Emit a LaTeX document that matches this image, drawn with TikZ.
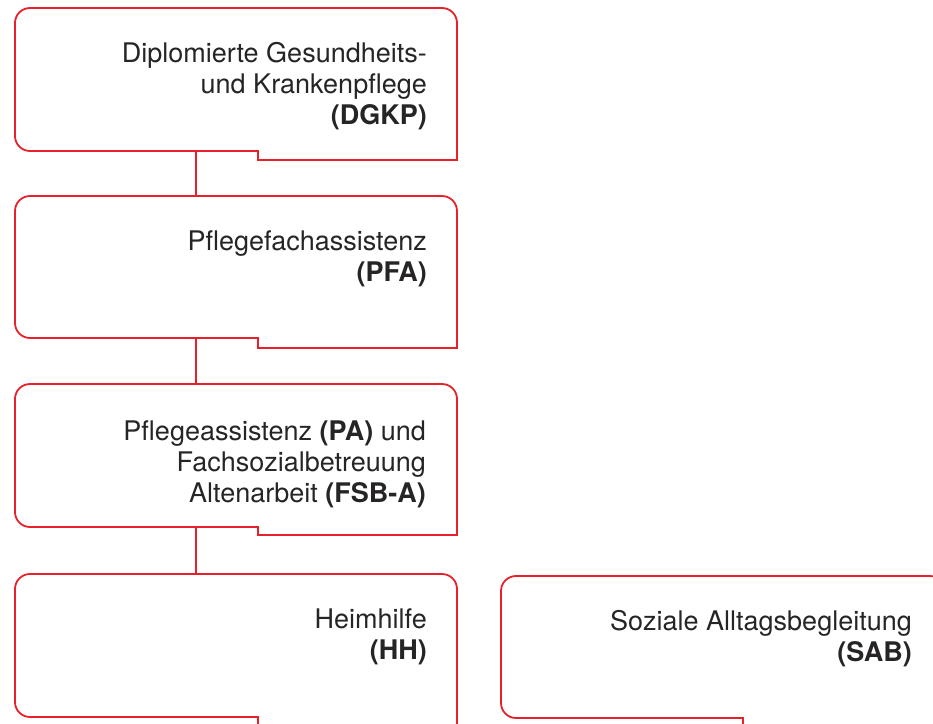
\documentclass[tikz,border=0pt]{standalone}
\usepackage{fontspec}
\setmainfont{TeX Gyre Heros}
\definecolor{boxred}{RGB}{232,32,42}
\definecolor{txtgray}{RGB}{38,36,37}
\newcommand\pflegebox[6]{%
  \draw[boxline] (#5,#4) -- (#5,#6) -- (#3,#6) -- (#3,#2+15)
    .. controls (#3,#2+6.7) and (#3-6.7,#2) .. (#3-15,#2) -- (#1+15,#2)
    .. controls (#1+6.7,#2) and (#1,#2+6.7) .. (#1,#2+15) -- (#1,#4-15)
    .. controls (#1,#4-6.7) and (#1+6.7,#4) .. (#1+15,#4) -- cycle;}
\tikzset{
  boxline/.style={draw=boxred, line width=1.8pt, line join=miter},
  conn/.style={draw=boxred, line width=1.8pt},
  boxtext/.style={inner sep=0pt, anchor=base east, align=right, text=txtgray,
    font=\fontsize{27}{31}\selectfont}
}
\begin{document}
\begin{tikzpicture}[x=1pt,y=-1pt]
\useasboundingbox (0,0) rectangle (933,723);
\clip (0,0) rectangle (933,723);
% boxes
\pflegebox{15}{8}{457}{151}{258}{160}
\pflegebox{15}{196}{457}{338}{258}{348}
\pflegebox{15}{384}{457}{527}{258}{535}
\pflegebox{15}{574}{457}{717}{258}{727}
\pflegebox{501}{576}{945}{718}{743}{728}
% connector points
\coordinate (b1s) at (196,151);
\coordinate (b2n) at (196,196);
\coordinate (b2s) at (196,338);
\coordinate (b3n) at (196,384);
\coordinate (b3s) at (196,527);
\coordinate (b4n) at (196,574);
\draw[conn] (b1s) -- (b2n);
\draw[conn] (b2s) -- (b3n);
\draw[conn] (b3s) -- (b4n);
% texts (anchored at the baseline of the last line)
\node[boxtext] (dgkp) at (427,124) {Diplomierte Gesundheits-\\und Krankenpflege\\\textbf{(DGKP)}};
\node[boxtext] (pfa) at (427,281) {Pflegefachassistenz\\\textbf{(PFA)}};
\node[boxtext] (pa) at (426,502) {Pflegeassistenz \textbf{(PA)} und\\Fachsozialbetreuung\\Altenarbeit \textbf{(FSB-A)}};
\node[boxtext] (hh) at (427,659) {Heimhilfe\\\textbf{(HH)}};
\node[boxtext] (sab) at (912,661) {Soziale Alltagsbegleitung\\\textbf{(SAB)}};
\end{tikzpicture}
\end{document}
